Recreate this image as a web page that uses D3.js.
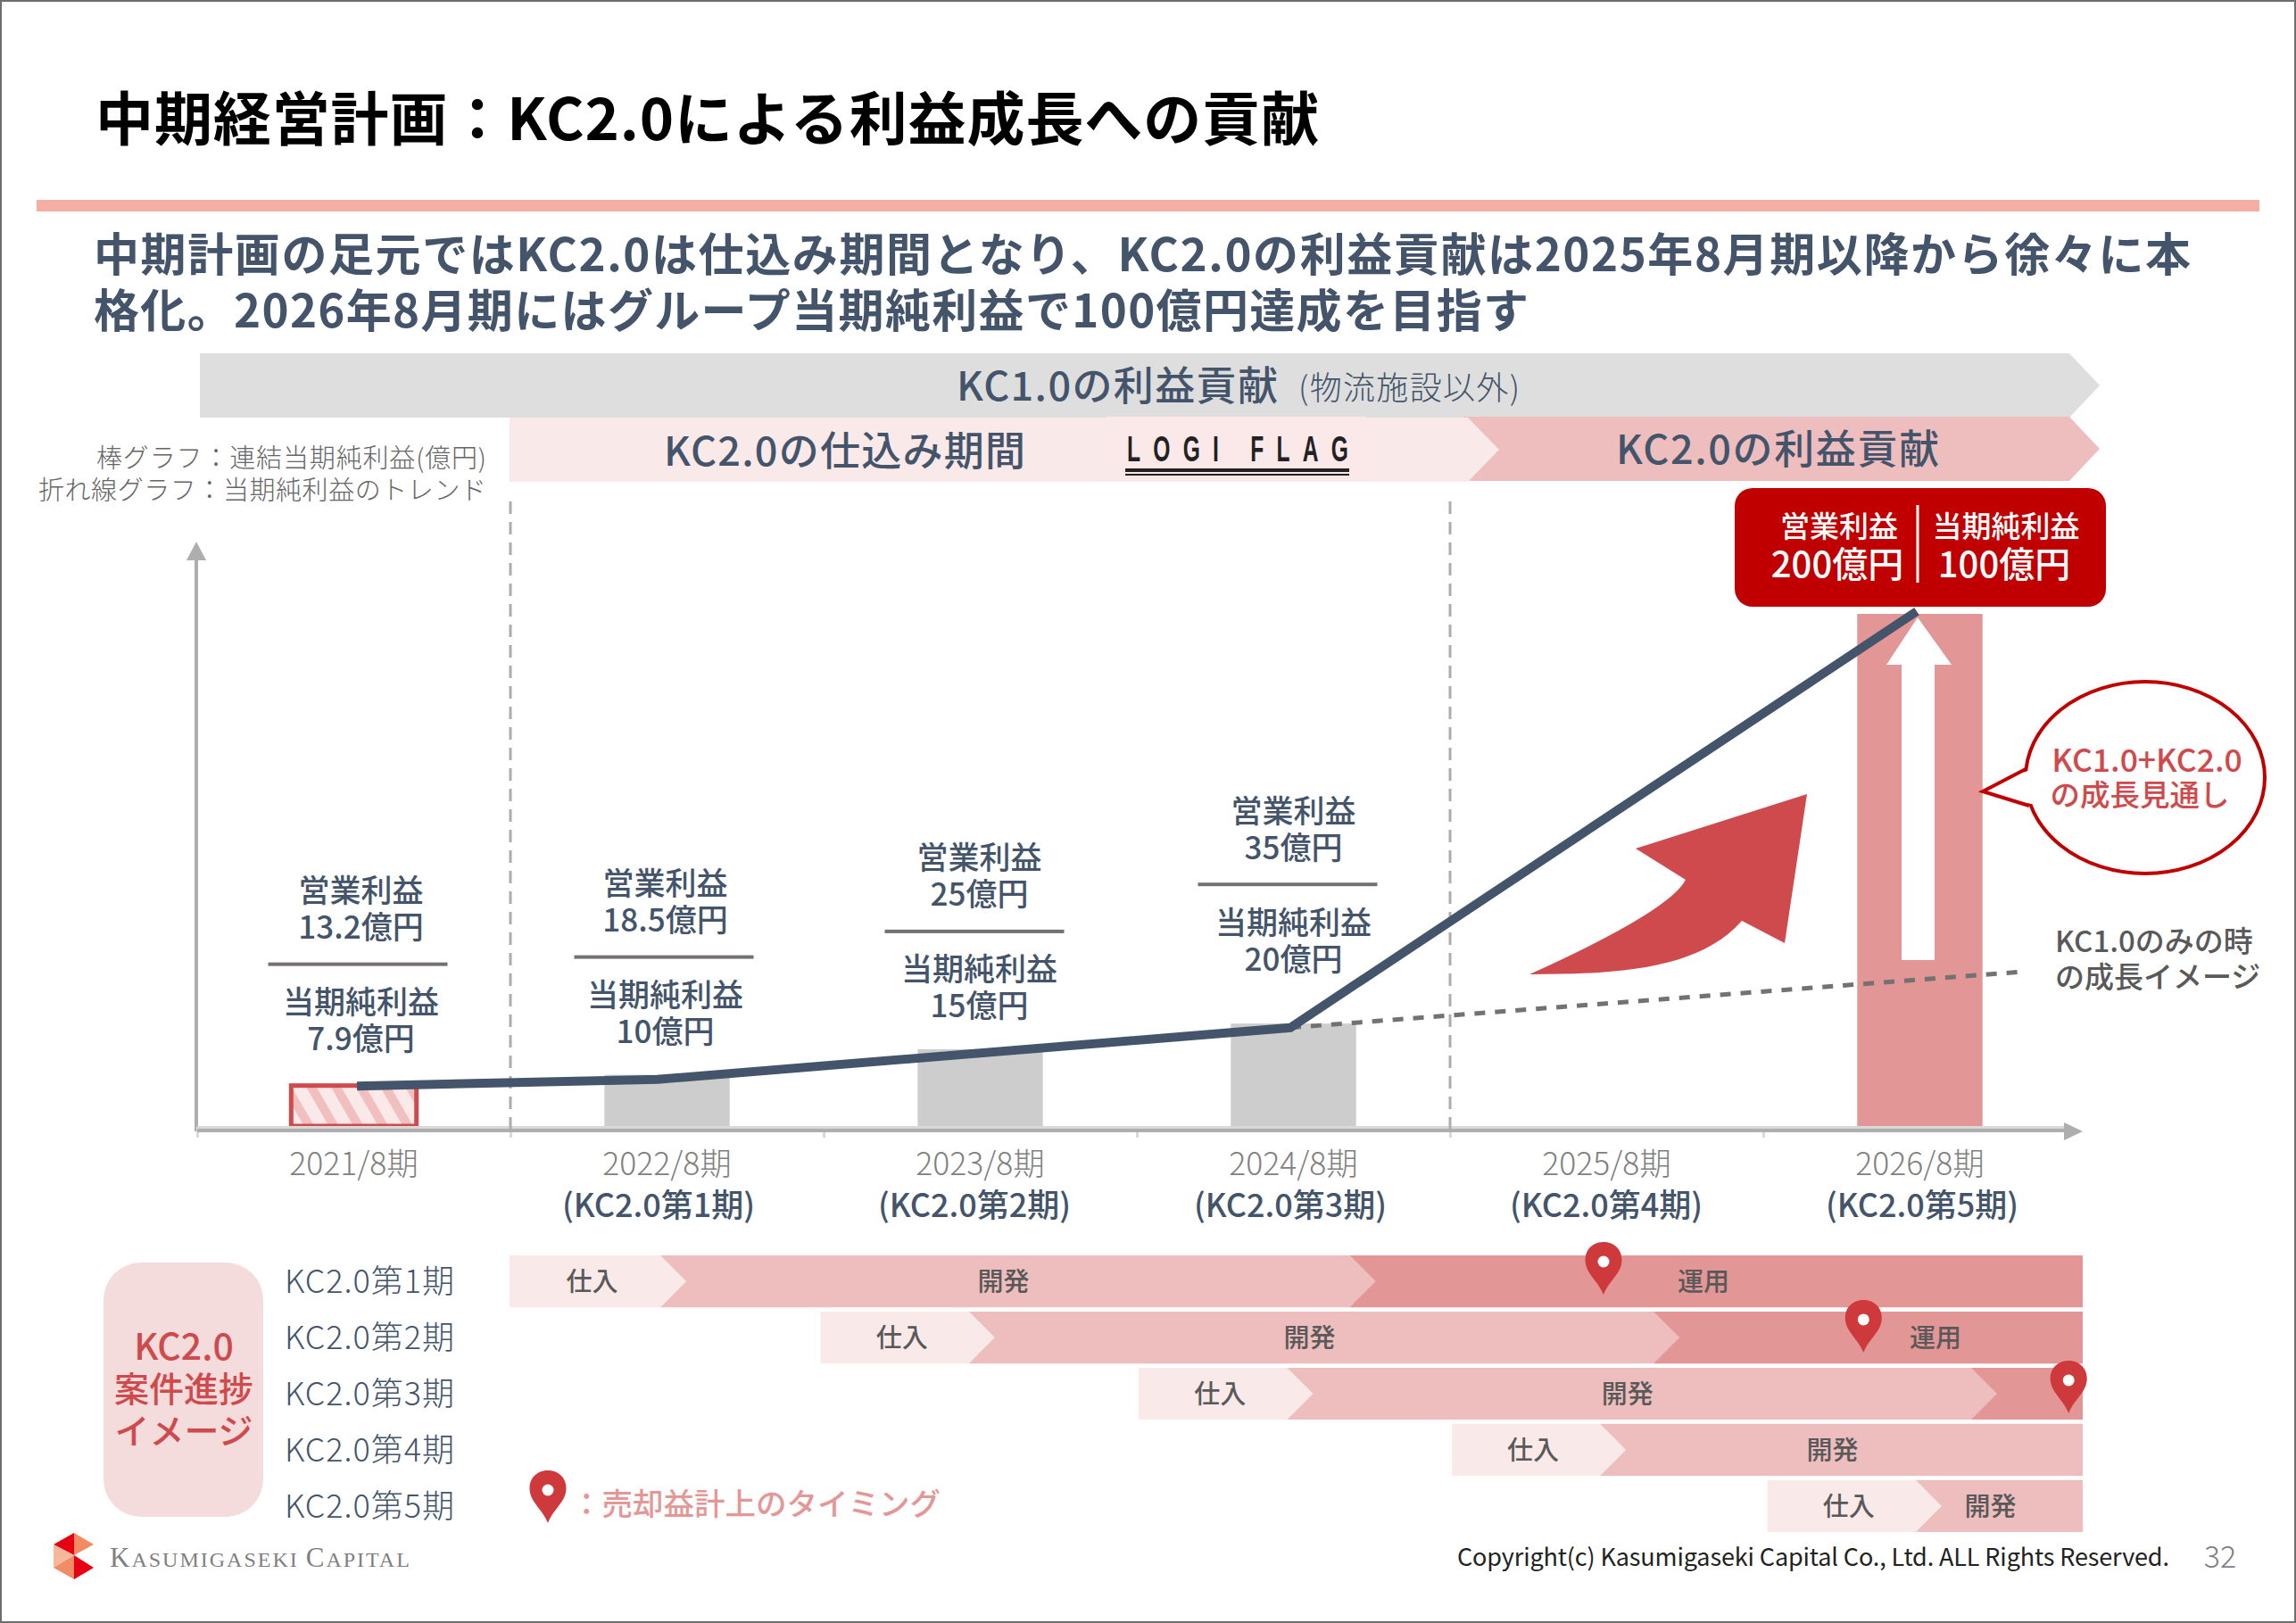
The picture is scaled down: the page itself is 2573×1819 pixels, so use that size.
<!DOCTYPE html>
<html>
<head>
<meta charset="utf-8">
<script src="https://cdn.jsdelivr.net/npm/d3@7"></script>
<style>
  html, body { margin: 0; padding: 0; background: #fff; }
  svg { display: block; }
  text { font-family: "Noto Sans CJK JP", "Noto Sans", sans-serif; }
</style>
</head>
<body>
<div id="chart"></div>
<script>
// chart values
var periods = ["2021/8期", "2022/8期", "2023/8期", "2024/8期", "2025/8期", "2026/8期"];
var periodNotes = ["", "(KC2.0第1期)", "(KC2.0第2期)", "(KC2.0第3期)", "(KC2.0第4期)", "(KC2.0第5期)"];
var barValues = [7.9, 10, 15, 20, null, 100];
var opProfit = ["13.2億円", "18.5億円", "25億円", "35億円"];
var netProfit = ["7.9億円", "10億円", "15億円", "20億円"];

// trend lines, x is in periods from the left of the axis
var trendX = [0.51, 1.47, 3.49, 5.49];
var trendY = [7.8, 9.1, 19.2, 100.5];
var kc1OnlyX = [3.49, 5.82];
var kc1OnlyY = [19.2, 30.1];

// project timeline, x is in periods from the left of the axis
var ganttRows = ["KC2.0第1期", "KC2.0第2期", "KC2.0第3期", "KC2.0第4期", "KC2.0第5期"];
var ganttBuy = [0.997, 1.99, 3.006, 4.006, 5.013];
var ganttDev = [1.479, 2.464, 3.48, 4.479, 5.487];
var ganttOps = [3.68, 4.65, 5.664, null, null];
var ganttEnd = 6.02;
var salePins = [4.49, 5.32, 5.975];

var W = 2573, H = 1819;
var NAVY = "#44546A", RED = "#CF4A4C", PIN = "#CE3A3C", DARKRED = "#C00000";
var PALE = "#F9E9E9", MID = "#EEBEBE", DEEP = "#E29696";
var COLON = "\uFF1A"; // full width colon

var svg = d3.select("#chart").append("svg").attr("width", W).attr("height", H);

var xPos = d3.scaleLinear().domain([0, 6]).range([221, 2327]);
var xBand = d3.scaleBand().domain(periods).range([221, 2327]).paddingInner(0.6).paddingOuter(0.3);
var y = d3.scaleLinear().domain([0, 100]).range([1262, 688]);
var rowY = d3.scaleBand().domain(ganttRows).range([1407, 1717]).paddingInner(0.075);

function txt(x, yy, s, size, color, opts) {
  opts = opts || {};
  return svg.append("text")
    .attr("x", x).attr("y", yy)
    .attr("dominant-baseline", "central")
    .attr("text-anchor", opts.anchor || "middle")
    .attr("font-size", size)
    .attr("font-weight", opts.weight || 400)
    .attr("fill", color)
    .attr("textLength", opts.fit || null)
    .style("font-family", opts.family || null)
    .text(s);
}

function poly(points, fill) {
  return svg.append("path").attr("d", d3.line()(points) + "Z").attr("fill", fill);
}

function pin(cx, top) {
  var w = 41, h = 59, p = d3.path();
  p.moveTo(cx, top + h);
  p.bezierCurveTo(cx - w * 0.16, top + h * 0.72, cx - w / 2, top + h * 0.6, cx - w / 2, top + h * 0.34);
  p.bezierCurveTo(cx - w / 2, top + h * 0.12, cx - w * 0.26, top, cx, top);
  p.bezierCurveTo(cx + w * 0.26, top, cx + w / 2, top + h * 0.12, cx + w / 2, top + h * 0.34);
  p.bezierCurveTo(cx + w / 2, top + h * 0.6, cx + w * 0.16, top + h * 0.72, cx, top + h);
  p.closePath();
  svg.append("path").attr("d", p.toString()).attr("fill", PIN);
  svg.append("circle").attr("cx", cx).attr("cy", top + 22).attr("r", 6.5).attr("fill", "#fff");
}

// hatch for the first bar
var hatch = svg.append("defs").append("pattern")
  .attr("id", "hatch").attr("patternUnits", "userSpaceOnUse")
  .attr("width", 24).attr("height", 24).attr("patternTransform", "rotate(-30)");
hatch.append("rect").attr("width", 24).attr("height", 24).attr("fill", "#FBE8E8");
hatch.append("rect").attr("width", 10).attr("height", 24).attr("fill", "#F1BFBF");

// page frame
svg.append("rect").attr("x", 1).attr("y", 1).attr("width", W - 2).attr("height", H - 2)
  .attr("fill", "none").attr("stroke", "#6e6e6e").attr("stroke-width", 2);

// heading
txt(107, 129, "中期経営計画" + COLON + "KC2.0による利益成長への貢献", 65, "#000", { anchor: "start", weight: 700, fit: 1371 });
svg.append("rect").attr("x", 41).attr("y", 224).attr("width", 2491).attr("height", 13).attr("fill", "#F4AEA2");
txt(105, 282, "中期計画の足元ではKC2.0は仕込み期間となり、KC2.0の利益貢献は2025年8月期以降から徐々に本", 51, NAVY, { anchor: "start", weight: 700, fit: 2350 });
txt(105, 345, "格化。2026年8月期にはグループ当期純利益で100億円達成を目指す", 51, NAVY, { anchor: "start", weight: 700, fit: 1608 });

// phase bands
poly([[224, 396], [2319, 396], [2353, 432], [2319, 468], [224, 468]], "#DEDEDE");
poly([[1640, 467], [2319, 467], [2353, 503], [2319, 539], [1640, 539], [1675, 503]], MID);
poly([[571, 468], [1645, 468], [1680, 504], [1645, 540], [571, 540]], PALE);
txt(1072, 429, "KC1.0の利益貢献", 45, NAVY, { anchor: "start", weight: 500, fit: 360 });
txt(1455, 432, "(物流施設以外)", 36, NAVY, { anchor: "start", weight: 300, fit: 248 });
txt(744, 502, "KC2.0の仕込み期間", 45, NAVY, { anchor: "start", weight: 500, fit: 405 });
txt(1811, 500, "KC2.0の利益貢献", 45, NAVY, { anchor: "start", weight: 500, fit: 362 });

// logo inside the pale band
svg.append("rect").attr("x", 1240).attr("y", 467).attr("width", 291).attr("height", 72).attr("fill", "#FBE9E9");
svg.append("text").attr("transform", "translate(1263,517) scale(0.6,1)")
  .attr("font-size", 41).attr("font-weight", 700).attr("fill", "#222")
  .attr("textLength", 413)
  .style("font-family", "'Liberation Sans'")
  .text("LOGI FLAG");
svg.append("rect").attr("x", 1261).attr("y", 525).attr("width", 251).attr("height", 4).attr("fill", "#222");
svg.append("rect").attr("x", 1261).attr("y", 531).attr("width", 251).attr("height", 2).attr("fill", "#222");

// note on the marks
txt(545, 511, "棒グラフ" + COLON + "連結当期純利益(億円)", 29, "#666", { anchor: "end", weight: 300, fit: 437 });
txt(545, 547, "折れ線グラフ" + COLON + "当期純利益のトレンド", 29, "#666", { anchor: "end", weight: 300, fit: 502 });

// bars
svg.selectAll(".bar").data(periods).enter().append("rect")
  .attr("class", "bar")
  .filter(function(d, i) { return barValues[i] !== null; })
  .attr("x", function(d) { return xBand(d); })
  .attr("width", xBand.bandwidth())
  .attr("y", function(d) { return y(barValues[periods.indexOf(d)]); })
  .attr("height", function(d) { return y(0) - y(barValues[periods.indexOf(d)]); })
  .attr("fill", function(d) {
    var i = periods.indexOf(d);
    return i === 0 ? "url(#hatch)" : i === 5 ? DEEP : "#CDCDCD";
  })
  .attr("stroke", function(d) { return periods.indexOf(d) === 0 ? RED : "none"; })
  .attr("stroke-width", 5);

// axes
svg.append("line").attr("x1", 220).attr("x2", 220).attr("y1", 625).attr("y2", 1268)
  .attr("stroke", "#AEAEAE").attr("stroke-width", 4);
poly([[220, 607], [231, 628], [209, 628]], "#AEAEAE");
svg.append("g").attr("transform", "translate(0,1263)")
  .call(d3.axisBottom(xPos).tickValues(d3.range(0, 6)).tickSize(12).tickFormat(""))
  .call(function(g) {
    g.select(".domain").remove();
    g.selectAll("line").attr("stroke", "#D9D9D9").attr("stroke-width", 3);
  });
svg.append("line").attr("x1", 221).attr("x2", 2316).attr("y1", 1263.5).attr("y2", 1263.5)
  .attr("stroke", "#D9D9D9").attr("stroke-width", 3);
svg.append("line").attr("x1", 221).attr("x2", 2316).attr("y1", 1267).attr("y2", 1267)
  .attr("stroke", "#AEAEAE").attr("stroke-width", 4);
poly([[2334, 1268], [2313, 1258], [2313, 1278]], "#AEAEAE");

// period dividers
[1, 4].forEach(function(p) {
  svg.append("line").attr("x1", xPos(p)).attr("x2", xPos(p)).attr("y1", 562).attr("y2", 1275)
    .attr("stroke", "#AFABAB").attr("stroke-width", 3).attr("stroke-dasharray", "14 9");
});

// period labels
periods.forEach(function(p, i) {
  var cx = xBand(p) + xBand.bandwidth() / 2;
  txt(cx, 1301, p, 35.5, "#808080", { weight: 300 });
  if (periodNotes[i]) txt(738 + (i - 1) * 354, 1348, periodNotes[i], 36, NAVY, { weight: 500 });
});

// profit labels over the bars
var labelLift = [54, 50, 50, 74];
var labelShift = [8, -2, -1, 0];
var ruleShift = [-96, -104, -107, -107];
opProfit.forEach(function(v, i) {
  var cx = xBand(periods[i]) + xBand.bandwidth() / 2;
  var base = y(barValues[i]) - labelLift[i];
  txt(cx + labelShift[i], base - 167, "営業利益", 35, NAVY, { weight: 500 });
  txt(cx + labelShift[i], base - 126, v, 35, NAVY, { weight: 500 });
  svg.append("rect").attr("x", cx + ruleShift[i]).attr("y", base - 84).attr("width", 201).attr("height", 4).attr("fill", "#767171");
  txt(cx + labelShift[i], base - 42, "当期純利益", 35, NAVY, { weight: 500 });
  txt(cx + labelShift[i], base - 1, netProfit[i], 35, NAVY, { weight: 500 });
});

// white up arrow inside the last bar
poly([[2149, 692], [2187, 745], [2168, 745], [2168, 1076], [2131, 1076], [2131, 745], [2114, 745]], "#fff");

// KC1.0 only trend, dashed
var trendLine = d3.line().x(function(d) { return xPos(d[0]); }).y(function(d) { return y(d[1]); });
svg.append("path").attr("d", trendLine(d3.zip(kc1OnlyX, kc1OnlyY)))
  .attr("fill", "none").attr("stroke", "#767171").attr("stroke-width", 5).attr("stroke-dasharray", "12 11");

// main trend
svg.append("path").attr("d", trendLine(d3.zip(trendX, trendY)))
  .attr("fill", "none").attr("stroke", NAVY).attr("stroke-width", 10).attr("stroke-linejoin", "miter");

// curved red arrow
var curved = d3.path();
curved.moveTo(2025, 890);
curved.lineTo(1833, 951);
curved.lineTo(1889, 986);
curved.quadraticCurveTo(1871, 1021, 1714, 1092);
curved.bezierCurveTo(1820, 1092, 1905, 1085, 1952, 1032);
curved.lineTo(2000, 1057);
curved.closePath();
svg.append("path").attr("d", curved.toString()).attr("fill", RED);

// target box
svg.append("rect").attr("x", 1944).attr("y", 547).attr("width", 416).attr("height", 133).attr("rx", 20).attr("fill", DARKRED);
svg.append("line").attr("x1", 2149).attr("x2", 2149).attr("y1", 566).attr("y2", 653).attr("stroke", "#fff").attr("stroke-width", 3);
txt(2061, 588, "営業利益", 33, "#fff", { weight: 500 });
txt(2059, 630, "200億円", 40, "#fff", { weight: 500 });
txt(2248, 588, "当期純利益", 33, "#fff", { weight: 500 });
txt(2246, 630, "100億円", 40, "#fff", { weight: 500 });

// speech bubble
svg.append("ellipse").attr("cx", 2404).attr("cy", 871.5).attr("rx", 134).attr("ry", 107.5)
  .attr("fill", "#fff").attr("stroke", DARKRED).attr("stroke-width", 4);
poly([[2272, 864], [2222, 887], [2276, 901], [2290, 901], [2290, 864]], "#fff");
svg.append("path").attr("d", d3.line()([[2270, 862], [2222, 887], [2274, 903]]))
  .attr("fill", "none").attr("stroke", DARKRED).attr("stroke-width", 4);
txt(2406, 849, "KC1.0+KC2.0", 35.5, RED, { weight: 500 });
txt(2398, 888, "の成長見通し", 33.5, RED, { weight: 500 });

// label for the dashed trend
txt(2303, 1053, "KC1.0のみの時", 33, "#595959", { anchor: "start", weight: 500 });
txt(2303, 1093, "の成長イメージ", 33, "#595959", { anchor: "start", weight: 500 });

// project timeline
var chevron = 29;
var band = rowY.bandwidth();
ganttRows.forEach(function(r, i) {
  var top = rowY(r), mid = top + band / 2, bottom = top + band;
  var buyX = xPos(ganttBuy[i]), devX = xPos(ganttDev[i]), endX = xPos(ganttEnd);
  var opsX = ganttOps[i] === null ? null : xPos(ganttOps[i]);
  if (opsX !== null) {
    poly([[opsX, top], [endX, top], [endX, bottom], [opsX, bottom]], DEEP);
    poly([[devX, top], [opsX, top], [opsX + chevron, mid], [opsX, bottom], [devX, bottom]], MID);
  } else {
    poly([[devX, top], [endX, top], [endX, bottom], [devX, bottom]], MID);
  }
  poly([[buyX, top], [devX, top], [devX + chevron, mid], [devX, bottom], [buyX, bottom]], PALE);

  txt(319, mid - 3, r, 36, NAVY, { anchor: "start", weight: 300, fit: 190 });
  txt((buyX + devX) / 2 + 8, mid - 2, "仕入", 29, "#595959", { weight: 500 });
  txt((devX + (opsX === null ? endX : opsX)) / 2 - (opsX === null ? 10 : 2), mid - 2, "開発", 29, "#595959", { weight: 500 });
});
txt(1909, rowY(ganttRows[0]) + band / 2 - 2, "運用", 29, "#595959", { weight: 500 });
txt(2169, rowY(ganttRows[1]) + band / 2 - 2, "運用", 29, "#595959", { weight: 500 });

var pinLift = [15, 13, 8];
salePins.forEach(function(p, i) {
  pin(xPos(p), rowY(ganttRows[i]) - pinLift[i]);
});

// timeline caption and legend
svg.append("rect").attr("x", 116).attr("y", 1415).attr("width", 179).attr("height", 285).attr("rx", 42).attr("fill", "#F5DCDC");
txt(206, 1506, "KC2.0", 41, RED, { weight: 500 });
txt(206, 1554, "案件進捗", 39, RED, { weight: 500 });
txt(206, 1601, "イメージ", 39, RED, { weight: 500 });
pin(614, 1648);
txt(640, 1683, COLON + "売却益計上のタイミング", 34.5, "#E49797", { anchor: "start", weight: 500 });

// company mark
var markX = 83;
poly([[60, 1731], [markX, 1718], [markX, 1743]], "#E60012");
poly([[markX, 1718], [105, 1731], [markX, 1743]], "#F08B64");
poly([[60, 1731], [markX, 1743], [60, 1757]], "#F7B79B");
poly([[60, 1757], [markX, 1743], [markX, 1770]], "#F18C66");
poly([[markX, 1743], [105, 1757], [markX, 1770]], "#E60012");
var company = svg.append("text").attr("x", 123).attr("y", 1756).attr("fill", "#7F7F7F")
  .style("font-family", "'Liberation Serif'").attr("font-size", 24).attr("letter-spacing", 2);
company.append("tspan").attr("font-size", 31).text("K");
company.append("tspan").text("ASUMIGASEKI ");
company.append("tspan").attr("font-size", 31).text("C");
company.append("tspan").text("APITAL");

// footer
txt(1633, 1743, "Copyright(c) Kasumigaseki Capital Co., Ltd. ALL Rights Reserved.", 27, "#222", { anchor: "start", weight: 400, fit: 798 });
txt(2488, 1742, "32", 34, "#808080", { weight: 300 });
</script>
</body>
</html>
